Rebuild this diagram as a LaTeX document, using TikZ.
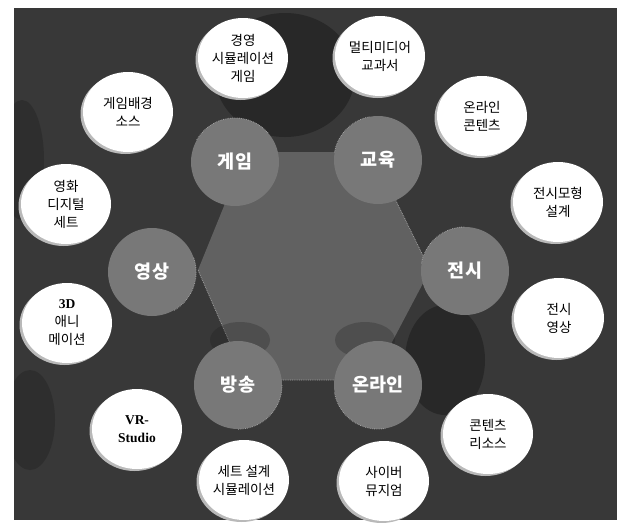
\documentclass[tikz,border=0pt]{standalone}
\usepackage{fontspec}
\setmainfont{Noto Sans CJK KR}
\newfontfamily\serifb{Liberation Serif}
\usetikzlibrary{shapes.geometric,shadows}
\definecolor{bgdark}{gray}{0.22}
\definecolor{bgblack}{gray}{0.10}
\definecolor{hexgray}{gray}{0.38}
\definecolor{catgray}{gray}{0.47}
\tikzset{
  leaf/.style={ellipse, fill=white, minimum width=90pt, minimum height=80pt,
    inner sep=0pt, align=center, text=black,
    font=\fontsize{13.5}{18}\selectfont,
    drop shadow={shadow xshift=-2.5pt, shadow yshift=-2pt, fill=gray!55, opacity=1}},
  cat/.style={circle, fill=catgray, minimum size=88pt, inner sep=0pt,
    text=white, font=\bfseries\fontsize{18.5}{20}\selectfont},
  catedge/.style={draw=gray!75, densely dotted, line width=0.8pt},
  blotch/.style={fill=bgblack, opacity=0.5}
}
\begin{document}
\begin{tikzpicture}[x=1pt,y=-1pt]
\useasboundingbox (0,0) rectangle (618,522);
\fill[white] (0,0) rectangle (618,522);
\fill[bgdark] (14,8) rectangle (617,520);
% darker blotches of the background
\begin{scope}
\clip (14,8) rectangle (617,520);
\fill[blotch] (285,75) ellipse (70 and 62);
\fill[blotch] (445,360) ellipse (40 and 55);
\fill[blotch, opacity=0.3] (22,160) ellipse (22 and 60);
\fill[blotch, opacity=0.3] (30,420) ellipse (25 and 50);
\end{scope}
% category positions
\coordinate (cgame) at (235,162);
\coordinate (cedu) at (378,160);
\coordinate (cexh) at (465,271);
\coordinate (conl) at (378,385);
\coordinate (cbro) at (238,385);
\coordinate (cvid) at (152,272);
% central hexagon
\coordinate (h1) at (246,152);
\coordinate (h2) at (372,152);
\coordinate (h3) at (430,270);
\coordinate (h4) at (372,380);
\coordinate (h5) at (246,380);
\coordinate (h6) at (198,270);
\fill[hexgray] (h1) -- (h2) -- (h3) -- (h4) -- (h5) -- (h6) -- cycle;
\draw[catedge] (h2) -- (h3) (h4) -- (h5) (h5) -- (h6);
\fill[bgblack, opacity=0.25] (240,340) ellipse (30 and 18);
\fill[bgblack, opacity=0.25] (365,340) ellipse (30 and 18);
% category blobs
\node[cat] (game) at (cgame) {게임};
\node[cat] (edu) at (cedu) {교육};
\node[cat] (exh) at (cexh) {전시};
\node[cat] (onl) at (conl) {온라인};
\node[cat] (bro) at (cbro) {방송};
\node[cat] (vid) at (cvid) {영상};
\draw[catedge] (game.150) arc (150:40:44pt);
\draw[catedge] (edu.170) arc (170:100:44pt);
\draw[catedge] (exh.170) arc (170:90:44pt);
\draw[catedge] (onl.190) arc (190:280:44pt);
\draw[catedge] (bro.270) arc (270:360:44pt);
\draw[catedge] (vid.300) arc (300:380:44pt);
% leaf circles
\node[leaf] (l1) at (243,58) {경영\\시뮬레이션\\게임};
\node[leaf] (l2) at (380,56) {멀티미디어\\교과서};
\node[leaf] (l3) at (128,112) {게임배경\\소스};
\node[leaf] (l4) at (482,116) {온라인\\콘텐츠};
\node[leaf] (l5) at (66,204) {영화\\디지털\\세트};
\node[leaf] (l6) at (558,202) {전시모형\\설계};
\node[leaf] (l7) at (67,323) {{\serifb\bfseries 3D}\\애니\\메이션};
\node[leaf] (l8) at (559,318) {전시\\영상};
\node[leaf] (l9) at (137,429) {\serifb\bfseries VR-\\\serifb\bfseries Studio};
\node[leaf] (l10) at (244,480) {세트 설계\\시뮬레이션};
\node[leaf] (l11) at (488,434) {콘텐츠\\리소스};
\node[leaf] (l12) at (384,481) {사이버\\뮤지엄};
\end{tikzpicture}
\end{document}
